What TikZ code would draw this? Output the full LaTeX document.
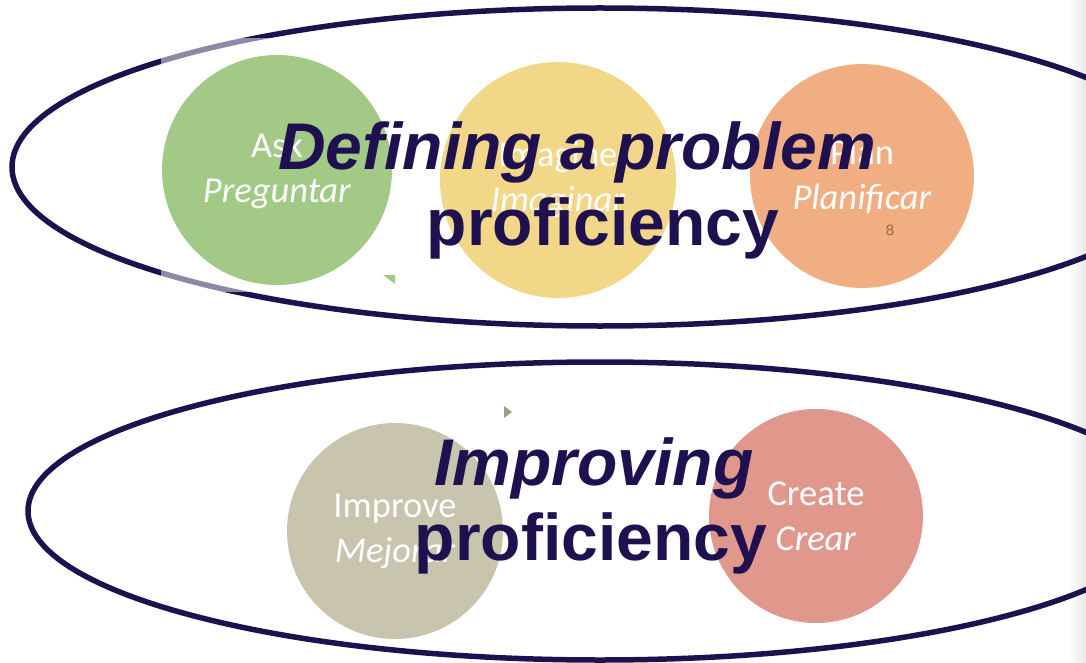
\documentclass[tikz,border=0pt]{standalone}
\usepackage{fontspec}
\setmainfont{Liberation Sans}
\newfontfamily\discfont{Carlito}
\usetikzlibrary{positioning}
\definecolor{ink}{HTML}{1F1150}
\definecolor{askgreen}{HTML}{A3C987}
\definecolor{imagineyellow}{HTML}{F1D787}
\definecolor{planorange}{HTML}{F0AE82}
\definecolor{improvebeige}{HTML}{C8C4AD}
\definecolor{createpink}{HTML}{E0978C}
\definecolor{pagebrown}{HTML}{A0643C}

\begin{document}
\begin{tikzpicture}[x=1pt,y=-1pt]
	\tikzstyle{disc} = [circle, inner sep=0pt, text=white, align=center, font=\discfont\fontsize{36.5}{45}\selectfont]
	\tikzstyle{title} = [anchor=base, inner sep=0pt, text=ink, font=\bfseries\fontsize{66}{75}\selectfont]
	\tikzstyle{ring} = [draw=ink, line width=5.5pt]

	\useasboundingbox (0,0) rectangle (1086,663);
	\clip (0,0) rectangle (1086,663);
	\shade [left color=white, right color=black!9] (1068,0) rectangle (1086,663);

	\draw [ring] (600,167) ellipse [x radius=588pt, y radius=159pt];
	\draw [ring] (600,511) ellipse [x radius=572pt, y radius=149pt];
	\fill [white, opacity=0.5] (161,38) rectangle (395,292);

	\node [disc, fill=askgreen, minimum size=230pt] (ask) at (277,170) {Ask\\\textit{Preguntar}};
	\node [disc, fill=imagineyellow, minimum size=236pt] (imagine) at (558,180) {Imagine\\\textit{Imaginar}};
	\node [disc, fill=planorange, minimum size=224pt] (plan) at (862,176) {Plan\\\textit{Planificar}};
	\node [disc, fill=improvebeige, minimum size=216pt] (improve) at (395,531) {Improve\\\textit{Mejorar}};
	\node [disc, fill=createpink, minimum size=214pt] (create) at (816,516) {Create\\\textit{Crear}};
	\node [text=pagebrown, inner sep=0pt, font=\fontsize{15}{15}\selectfont] (page) at (890,230) {8};

	\fill [askgreen] (383,275) -- (395,275) -- (395,284) -- cycle;
	\fill [improvebeige!80!black] (504,406) -- (512,412) -- (504,418) -- cycle;

	\node [title] (top1) at (577,170) {\itshape Defining a problem};
	\node [title] (top2) at (603,245) {proficiency};
	\node [title] (bot1) at (594,485) {\itshape Improving};
	\node [title] (bot2) at (591,560) {proficiency};
\end{tikzpicture}
\end{document}
